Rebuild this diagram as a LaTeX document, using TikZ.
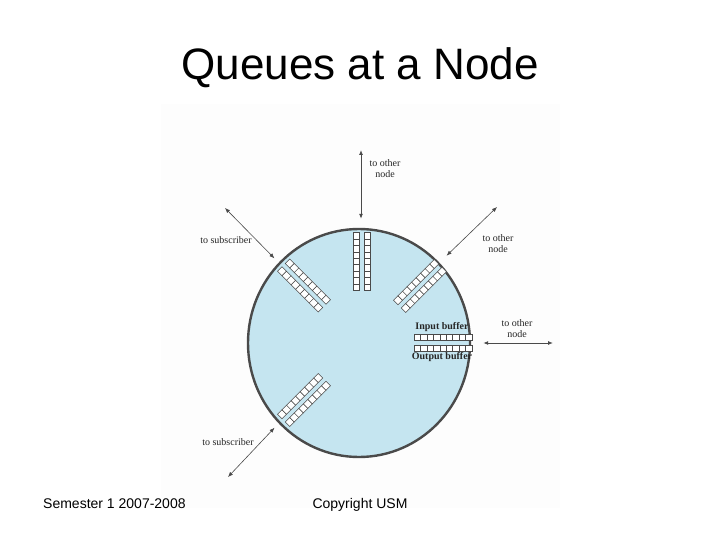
\documentclass[tikz,border=0pt]{standalone}
\usepackage{fontspec}
\setmainfont{Liberation Serif}
\newfontfamily\slidefont{Liberation Sans}
\usetikzlibrary{arrows.meta,positioning,shapes.geometric}
\definecolor{NodeBlue}{HTML}{C5E5F0}
\definecolor{RimGray}{HTML}{4A4A4A}
\definecolor{LineGray}{HTML}{4A4A4A}
\definecolor{TextGray}{HTML}{262626}

\begin{document}
\begin{tikzpicture}[
    x=1pt, y=-1pt,
    title/.style={font=\slidefont\fontsize{44}{44}\selectfont, anchor=base, inner sep=0pt},
    footer/.style={font=\slidefont\fontsize{14}{14}\selectfont, anchor=base, inner sep=0pt},
    lbl/.style={font=\fontsize{10}{11}\selectfont, text=TextGray, align=center, inner sep=0pt},
    buflbl/.style={font=\bfseries\fontsize{10}{11}\selectfont, text=TextGray, inner sep=0pt},
    cell/.style={draw=RimGray, fill=white, line width=0.5pt},
    link/.style={{Latex[length=5pt,width=4pt]}-{Latex[length=5pt,width=4pt]}, line width=0.9pt, draw=LineGray},
    sublink/.style={link, line width=0.6pt}
]
\useasboundingbox (0,0) rectangle (720,540);
\fill[black!0.6] (161,104) rectangle (560,508);

\node[title] (ttl) at (360,80) {Queues at a Node};
\node[footer, anchor=base west] (sem) at (43,508) {Semester 1 2007-2008};
\node[footer] (copy) at (360,508) {Copyright USM};

% the switching node
\node[ellipse, draw=RimGray, line width=2.4pt, fill=NodeBlue, minimum width=222pt, minimum height=228pt, inner sep=0pt] (nd) at (359,343) {};

% buffer pairs
\foreach \cx/\cy/\ang in {362/261.5/90, 420/286/45, 304/285.5/-45, 304/400/45, 443/342.5/0}{
  \begin{scope}[shift={(\cx,\cy)}, rotate=\ang]
    \foreach \off in {-5.5,5.5}
      \foreach \k in {0,...,8}
        \draw[cell] ({-28.8+6.4*\k},{\off-3.2}) rectangle ++(6.4,6.4);
  \end{scope}
}

\node[lbl] (ltop) at (385,168.5) {to other\\node};
\node[lbl] (lnw) at (226,240) {to subscriber};
\node[lbl] (lne) at (498,243.5) {to other\\node};
\node[lbl] (le) at (517,328.5) {to other\\node};
\node[lbl] (lsw) at (228,442) {to subscriber};
\node[buflbl] (lin) at (442,327) {Input buffer};
\node[buflbl] (lout) at (442,357) {Output buffer};

\coordinate (ptop) at (361,150);
\coordinate (pnw) at (225,208);
\coordinate (pne) at (497,207);
\coordinate (pe) at (553,343);
\coordinate (psw) at (228,477);

\draw[link, shorten >=9pt] (ptop) -- (ptop |- nd.north);
\draw[link, shorten >=12pt] (pe) -- (nd.east);
\draw[sublink, shorten >=6pt] (pnw) -- (nd.135);
\draw[sublink, shorten >=10pt] (pne) -- (nd.45);
\draw[sublink, shorten >=6pt] (psw) -- (nd.225);
\end{tikzpicture}
\end{document}
